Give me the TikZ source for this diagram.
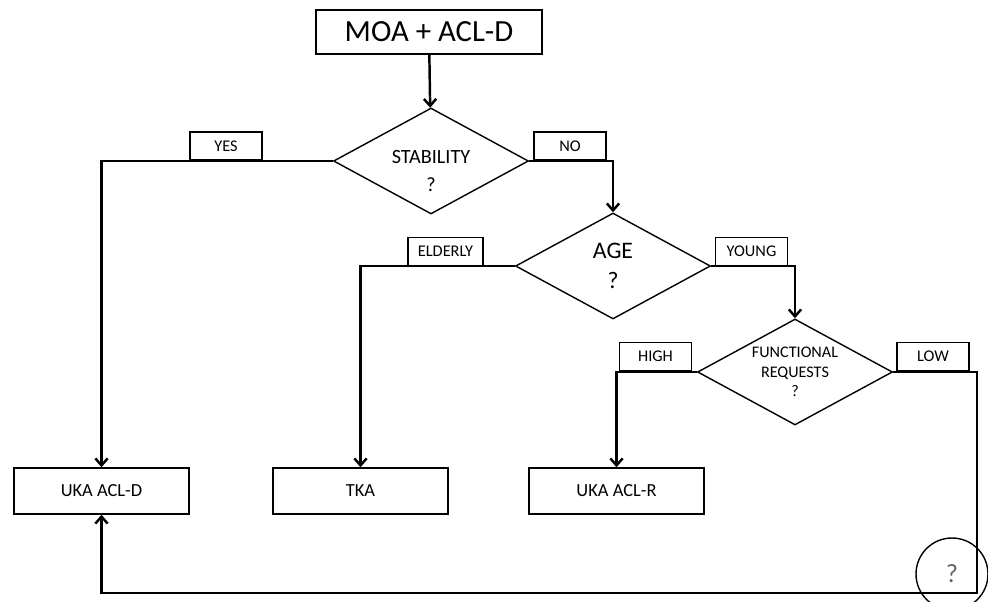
\documentclass[tikz,border=0pt]{standalone}
\usepackage{fontspec}
\setmainfont{Carlito}
\usetikzlibrary{shapes.geometric,arrows.meta}

\begin{document}
\begin{tikzpicture}[x=0.02cm, y=-0.02cm,
    box/.style={draw, line width=0.8pt, minimum width=3.5cm, minimum height=0.92cm, font=\fontsize{10.5}{12}\selectfont},
    ask/.style={draw, diamond, line width=0.8pt, aspect=1.85, inner sep=0pt, minimum width=3.9cm, minimum height=2.12cm, align=center},
    tag/.style={draw, line width=0.8pt, minimum width=1.44cm, minimum height=0.56cm, inner sep=0pt, font=\fontsize{9.3}{10}\selectfont},
    link/.style={line width=1.4pt, -{Straight Barb[length=4pt, width=7pt]}}]
  \useasboundingbox (0, 0) rectangle (988, 602);
  % start and questions
  \node (moa) [box, minimum width=4.52cm, minimum height=0.88cm, font=\fontsize{17.5}{20}\selectfont] at (429, 32) {MOA + ACL-D};
  \node (stab) [ask, label={[font=\fontsize{11.5}{16}\selectfont, align=center, yshift=-5.5pt]center:{STABILITY\\?}}] at (431, 161) {};
  \node (age) [ask, font=\fontsize{13.5}{17}\selectfont] at (613, 266) {AGE\\?};
  \node (func) [ask, font=\fontsize{9.2}{11}\selectfont] at (795, 372) {FUNCTIONAL\\REQUESTS\\?};
  % answers
  \node (yes) [tag] at (226, 146) {YES};
  \node (no) [tag] at (570, 146) {NO};
  \node (elderly) [tag, minimum width=1.5cm] at (445.5, 251.5) {ELDERLY};
  \node (young) [tag] at (751.5, 251.5) {YOUNG};
  \node (high) [tag] at (655.5, 356.5) {HIGH};
  \node (low) [tag] at (933, 356.5) {LOW};
  % outcomes
  \node (ukad) [box] at (101.5, 491) {UKA ACL-D};
  \node (tka) [box] at (360.5, 491) {TKA};
  \node (ukar) [box] at (616.5, 491) {UKA ACL-R};
  \node (unknown) [draw, circle, line width=0.8pt, minimum size=1.44cm, text=black!60, font=\fontsize{15}{18}\selectfont] at (952, 574) {?};
  \coordinate (lowend) at (977, 593);

  \draw[link] (moa) -- (stab);
  \draw[link] (stab.west) -| (ukad.north);
  \draw[link] (stab.east) -| (age.north);
  \draw[link] (age.west) -| (tka.north);
  \draw[link] (age.east) -| (func.north);
  \draw[link] (func.west) -| (ukar.north);
  \draw[link] (func.east) -| (lowend) -| (ukad.south);
\end{tikzpicture}
\end{document}
